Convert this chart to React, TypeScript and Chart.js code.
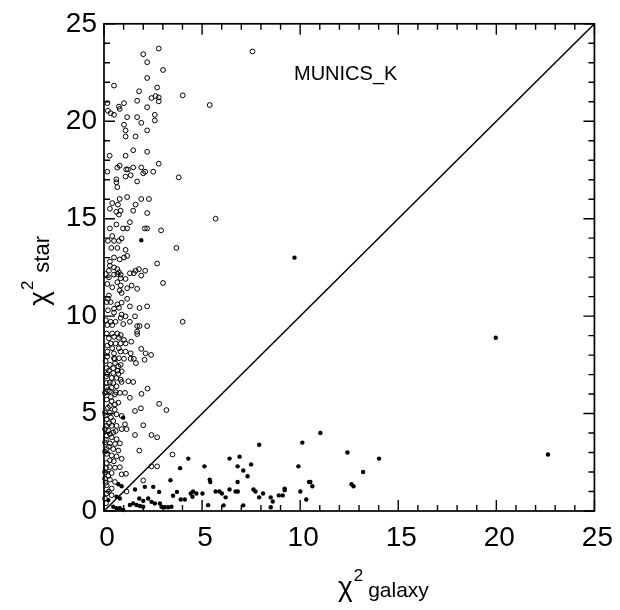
import { useEffect, useRef } from "react";
import { Chart, registerables } from "chart.js";

Chart.register(...registerables);

// Axis range and tick spacing (both axes share them)
const AXIS_MIN = 0;
const AXIS_MAX = 25;
const MAJOR_STEP = 5;
const MINOR_STEP = 1;

// Objects classified as stars: [chi2 galaxy, chi2 star]
const starsUpper: [number, number][] = [
  [2.79, 23.73], [2.0, 23.44], [2.2, 23.03], [3.01, 22.63], [2.2, 22.22], [0.51, 21.83],
  [2.71, 21.73], [1.79, 21.54], [4.01, 21.33], [1.02, 20.93], [1.69, 21.05], [2.42, 21.19],
  [2.63, 21.29], [2.79, 21.22], [2.79, 21.02], [0.17, 20.93], [0.76, 20.75], [2.2, 20.72],
  [5.39, 20.83], [7.57, 23.58], [0.2, 20.54], [0.34, 20.41], [0.51, 20.33], [0.8, 20.63],
  [2.59, 20.33], [2.59, 20.04], [1.18, 20.21], [1.69, 20.21], [1.9, 19.92], [1.02, 19.82],
  [1.1, 19.53], [1.1, 19.22], [1.61, 19.22], [2.2, 19.53], [1.49, 18.51], [2.2, 18.43],
  [1.1, 18.23], [0.29, 18.23], [2.79, 17.82], [0.8, 17.72], [0.68, 17.62], [1.13, 17.53],
  [1.22, 17.53], [1.49, 17.63], [1.9, 17.63], [2.1, 17.41], [2.0, 17.33], [2.51, 17.41],
  [0.17, 17.41], [1.36, 17.23], [1.1, 17.16], [3.81, 17.12], [0.63, 17.02], [0.63, 16.87],
  [0.68, 16.62], [1.69, 16.91],
];

const starsMiddle: [number, number][] = [
  [1.18, 16.11], [0.8, 16.01], [0.71, 15.72], [0.3, 15.51], [0.63, 15.35], [0.85, 15.41],
  [0.76, 15.21], [0.42, 15.8], [1.9, 16.01], [2.29, 16.01], [1.61, 15.72], [1.49, 15.41],
  [2.2, 15.29], [5.69, 15.0], [1.32, 14.82], [0.63, 14.7], [0.3, 14.5], [0.97, 14.5],
  [1.18, 14.5], [2.08, 14.5], [2.2, 14.5], [2.91, 14.4], [0.42, 14.11], [0.2, 13.86],
  [0.51, 13.86], [0.76, 13.86], [0.9, 13.99], [3.69, 13.5], [0.37, 13.5], [0.68, 13.5],
  [1.1, 13.4], [1.18, 13.09], [1.02, 13.01], [0.8, 12.91], [0.51, 13.01], [2.71, 12.7],
  [0.3, 12.8], [0.3, 12.59], [0.51, 12.5], [0.68, 12.41], [0.76, 12.25], [0.25, 12.33],
  [0.51, 12.13], [0.85, 12.13], [1.32, 12.2], [1.52, 12.2], [1.78, 12.41], [1.61, 12.33],
  [2.1, 12.33], [1.9, 12.08], [3.01, 11.7], [0.09, 12.16], [0.25, 11.99], [0.68, 12.16],
  [0.85, 11.94], [1.1, 11.91], [0.17, 11.65], [0.42, 11.48], [0.68, 11.74], [0.85, 11.57],
  [1.18, 11.43], [1.41, 11.57], [1.69, 11.4], [0.8, 11.32], [0.9, 11.19], [0.25, 11.06],
  [0.2, 10.89], [0.14, 10.72], [0.34, 10.72], [1.18, 10.89], [0.68, 10.6], [0.9, 10.69],
  [0.76, 10.43], [0.51, 10.38], [1.32, 10.5], [1.81, 10.42], [2.2, 10.5], [0.2, 10.3],
  [0.51, 10.18], [0.9, 10.08], [1.1, 9.99], [0.85, 9.91], [1.58, 9.99], [0.09, 9.79],
  [0.34, 9.71], [0.59, 9.71], [0.17, 9.54], [0.42, 9.54], [0.98, 9.59], [1.32, 9.71],
  [1.69, 9.49], [1.81, 9.49], [2.2, 9.49], [4.01, 9.71], [1.69, 9.2], [1.69, 9.08],
  [0.14, 9.11], [0.42, 9.11], [0.68, 9.11],
];

const starsLower: [number, number][] = [
  [0.85, 9.03], [0.51, 8.94], [0.76, 8.89], [1.02, 8.78], [0.25, 8.86], [1.1, 8.6],
  [1.39, 8.69], [0.85, 8.6], [0.59, 8.6], [0.34, 8.6], [0.17, 8.49], [0.42, 8.35],
  [0.76, 8.35], [0.17, 8.18], [0.51, 8.09], [0.85, 8.18], [1.1, 8.18], [1.36, 8.09],
  [0.17, 7.93], [0.51, 7.84], [0.76, 7.84], [1.02, 7.81], [1.36, 7.81], [1.52, 7.81],
  [1.9, 8.32], [2.12, 8.09], [2.4, 8.01], [2.07, 7.76], [0.3, 7.5], [0.56, 7.59],
  [0.85, 7.5], [0.14, 7.33], [0.47, 7.33], [0.73, 7.42], [1.63, 7.59], [0.17, 7.03],
  [0.47, 7.08], [0.73, 7.03], [0.9, 7.17], [0.39, 6.83], [0.64, 6.83], [0.85, 6.74],
  [0.14, 6.57], [0.47, 6.57], [0.9, 6.62], [1.24, 6.66], [1.49, 6.62], [0.14, 6.35],
  [0.39, 6.32], [0.64, 6.4], [0.05, 6.06], [0.3, 6.15], [0.56, 5.98], [0.81, 6.06],
  [1.07, 6.06], [1.32, 5.81], [1.91, 6.01], [2.22, 6.28], [0.14, 5.72], [0.39, 5.64],
  [0.73, 5.56], [0.3, 5.39], [0.56, 5.47], [1.58, 5.13], [1.88, 5.27], [2.81, 5.5],
  [3.18, 5.18], [0.05, 5.05], [0.3, 5.05], [0.64, 4.96], [0.9, 4.88], [0.14, 4.71],
  [0.47, 4.62], [1.07, 4.45], [1.15, 4.2], [2.0, 4.4], [0.14, 4.37], [0.39, 4.37],
  [0.64, 4.37], [0.9, 4.2], [0.22, 4.12], [0.47, 4.03], [0.14, 3.86], [0.39, 3.78],
  [0.64, 3.69], [1.58, 3.9], [2.42, 3.9], [2.71, 3.78], [0.05, 3.52], [0.3, 3.47],
  [0.56, 3.44], [0.81, 3.47], [0.14, 3.18], [0.47, 3.18], [0.73, 3.1], [0.14, 2.93],
  [0.39, 2.85], [0.64, 2.8], [0.9, 2.68], [1.8, 3.1], [3.49, 2.9], [0.14, 2.46],
  [0.3, 2.25], [0.56, 2.22], [0.81, 2.25], [0.05, 2.0], [0.39, 1.95], [0.9, 1.88],
  [1.12, 1.91], [2.42, 2.29], [2.71, 2.29], [0.05, 1.66], [0.3, 1.61], [0.56, 1.49],
  [0.14, 1.32], [0.39, 1.15], [2.0, 1.57], [0.14, 0.9], [0.39, 0.81], [1.15, 1.0],
  [0.05, 0.64], [0.08, 7.7], [0.25, 7.2], [0.1, 6.9], [0.3, 6.6], [0.2, 6.2],
  [0.35, 5.85], [0.2, 5.3], [0.08, 4.9], [0.35, 4.8], [0.25, 4.5], [0.05, 4.2],
  [0.3, 3.95], [0.1, 3.65], [0.25, 3.3], [0.05, 3.05], [0.3, 2.6], [0.1, 2.2],
  [0.22, 1.8], [0.08, 1.45], [0.25, 1.0], [0.1, 0.4], [0.5, 2.55], [0.6, 4.1],
  [0.55, 5.2], [0.6, 6.1], [0.7, 7.2], [0.55, 7.8],
];

// Objects classified as galaxies: [chi2 galaxy, chi2 star]
const galaxiesNear: [number, number][] = [
  [0.98, 4.79], [4.3, 2.69], [3.88, 2.2], [5.12, 2.29], [3.39, 1.58], [0.73, 1.37],
  [0.9, 1.27], [1.58, 1.1], [2.08, 1.24], [2.51, 1.24], [2.81, 0.98], [3.52, 0.78],
  [3.72, 0.98], [1.8, 0.64], [2.0, 0.52], [2.25, 0.64], [2.42, 0.47], [2.59, 0.39],
  [2.85, 0.39], [1.49, 0.39], [1.32, 0.31], [1.66, 0.31], [1.83, 0.26], [2.0, 0.22],
  [0.47, 0.22], [0.64, 0.14], [0.81, 0.14], [0.98, 0.05], [0.22, 0.56], [2.93, 0.22],
  [3.1, 0.19], [3.27, 0.19], [3.44, 0.22], [0.64, 0.73], [0.81, 0.64], [5.31, 0.3],
  [4.42, 0.9], [4.54, 1.0], [4.71, 0.9], [4.51, 0.73], [5.02, 0.9], [3.91, 0.59],
  [4.12, 0.59], [5.39, 1.61], [5.42, 1.49], [1.9, 13.89],
];

const galaxiesFar: [number, number][] = [
  [11.03, 4.0], [10.11, 3.51], [12.41, 3.0], [7.91, 3.4], [6.91, 2.79], [6.4, 2.69],
  [6.81, 2.29], [7.1, 2.08], [7.5, 2.39], [7.32, 1.78], [9.91, 2.29], [6.81, 1.49],
  [10.45, 1.49], [10.52, 1.49], [10.62, 1.27], [12.62, 1.37], [12.72, 1.27], [9.21, 1.15],
  [9.21, 1.07], [6.4, 1.1], [5.69, 1.0], [5.89, 1.0], [6.01, 0.9], [6.71, 1.0],
  [6.82, 1.0], [7.62, 1.1], [7.72, 1.0], [8.11, 0.9], [10.01, 1.0], [6.2, 0.7],
  [7.91, 0.7], [8.5, 0.7], [8.6, 0.49], [8.5, 0.19], [8.91, 0.8], [9.11, 0.8],
  [10.31, 0.59], [6.1, 0.29], [7.1, 0.29], [13.21, 2.0], [14.02, 2.69], [22.63, 2.9],
  [9.71, 13.0], [19.97, 8.89],
];

// Equal chi2 line
const equalityLine: [number, number][] = [[0, 0], [25, 25]];

const PANEL_LABEL = "MUNICS_K";
const X_TITLE = { symbol: "\u03C7", power: "2", name: "galaxy" };
const Y_TITLE = { symbol: "\u03C7", power: "2", name: "star" };

const FONT = "'Liberation Sans', Arial, Helvetica, sans-serif";

const toXY = (pts: [number, number][]) => pts.map(([x, y]) => ({ x, y }));

function drawChiTitle(
  ctx: CanvasRenderingContext2D,
  t: { symbol: string; power: string; name: string },
  nameGap: number,
  nameSize: number
) {
  ctx.textAlign = "left";
  ctx.textBaseline = "alphabetic";
  let cx = 0;
  ctx.font = `28px ${FONT}`;
  ctx.fillText(t.symbol, cx, 0);
  cx += ctx.measureText(t.symbol).width + 1;
  ctx.font = `17px ${FONT}`;
  ctx.fillText(t.power, cx, -15);
  cx += ctx.measureText(t.power).width + nameGap;
  ctx.font = `${nameSize}px ${FONT}`;
  ctx.fillText(t.name, cx, 1);
}

const framePlugin = {
  id: "frameTicks",
  afterDatasetsDraw(chart: any) {
    const { ctx, chartArea: a, scales } = chart;
    const xs = scales.x;
    const ys = scales.y;
    ctx.save();
    ctx.strokeStyle = "#000";
    ctx.lineWidth = 1.7;
    ctx.strokeRect(a.left, a.top, a.right - a.left, a.bottom - a.top);

    ctx.lineWidth = 1.4;
    ctx.beginPath();
    for (let v = AXIS_MIN; v <= AXIS_MAX; v += MINOR_STEP) {
      const len = v % MAJOR_STEP === 0 ? 11 : 6;
      const px = xs.getPixelForValue(v);
      const py = ys.getPixelForValue(v);
      ctx.moveTo(px, a.bottom);
      ctx.lineTo(px, a.bottom - len);
      ctx.moveTo(px, a.top);
      ctx.lineTo(px, a.top + len);
      ctx.moveTo(a.left, py);
      ctx.lineTo(a.left + len, py);
      ctx.moveTo(a.right, py);
      ctx.lineTo(a.right - len, py);
    }
    ctx.stroke();

    ctx.fillStyle = "#000";
    ctx.font = `20px ${FONT}`;
    ctx.textAlign = "left";
    ctx.textBaseline = "alphabetic";
    ctx.fillText(PANEL_LABEL, a.left + 190, a.top + 56);

    // x-axis title
    ctx.save();
    ctx.translate(a.left + 234, a.bottom + 85);
    drawChiTitle(ctx, X_TITLE, 5, 21);
    ctx.restore();

    // y-axis title (rotated)
    ctx.save();
    ctx.translate(48, a.top + 282);
    ctx.rotate(-Math.PI / 2);
    drawChiTitle(ctx, Y_TITLE, 8, 22);
    ctx.restore();

    ctx.restore();
  },
};

export default function App() {
  const canvasRef = useRef<HTMLCanvasElement | null>(null);

  useEffect(() => {
    const canvas = canvasRef.current;
    if (!canvas) return;
    Chart.defaults.font.family = FONT;
    Chart.defaults.color = "#000";

    const tickFont = { size: 28, family: FONT };

    const chart = new Chart(canvas, {
      type: "scatter",
      data: {
        datasets: [
          {
            label: "equal",
            data: toXY(equalityLine),
            showLine: true,
            borderColor: "#000",
            borderWidth: 1.5,
            pointRadius: 0,
            fill: false,
          },
          {
            label: "stars",
            data: toXY([...starsUpper, ...starsMiddle, ...starsLower]),
            pointStyle: "circle",
            pointRadius: 2.4,
            borderWidth: 1,
            borderColor: "#000",
            backgroundColor: "rgba(0,0,0,0)",
            clip: false,
          },
          {
            label: "galaxies",
            data: toXY([...galaxiesNear, ...galaxiesFar]),
            pointStyle: "circle",
            pointRadius: 2.2,
            borderWidth: 0,
            backgroundColor: "#000",
            clip: false,
          },
        ],
      } as any,
      options: {
        animation: false,
        responsive: false,
        maintainAspectRatio: false,
        layout: { padding: { top: 19, right: 24, left: 0, bottom: 0 } },
        plugins: {
          legend: { display: false },
          tooltip: { enabled: false },
        },
        scales: {
          x: {
            type: "linear",
            min: AXIS_MIN,
            max: AXIS_MAX,
            ticks: {
              stepSize: MAJOR_STEP,
              font: tickFont,
              color: "#000",
              padding: 10,
              labelOffset: 3,
              maxRotation: 0,
            },
            grid: { display: false, drawTicks: false },
            border: { display: false },
            afterFit: (s: any) => {
              s.height = 99;
            },
          },
          y: {
            type: "linear",
            min: AXIS_MIN,
            max: AXIS_MAX,
            ticks: {
              stepSize: MAJOR_STEP,
              font: tickFont,
              color: "#000",
              padding: 7,
            },
            grid: { display: false, drawTicks: false },
            border: { display: false },
            afterFit: (s: any) => {
              s.width = 104;
            },
          },
        },
      } as any,
      plugins: [framePlugin],
    });

    return () => chart.destroy();
  }, []);

  return (
    <div style={{ position: "absolute", left: 0, top: 0, width: 620, height: 610, background: "#fff" }}>
      <canvas ref={canvasRef} width={620} height={610} style={{ display: "block" }} />
    </div>
  );
}
